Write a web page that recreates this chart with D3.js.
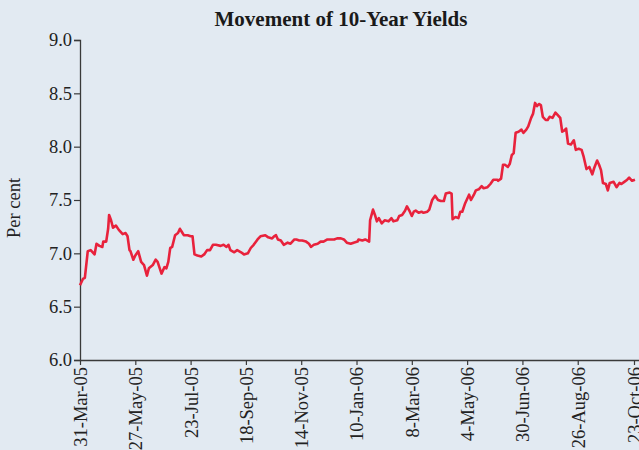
<!DOCTYPE html>
<html>
<head>
<meta charset="utf-8">
<script src="https://cdn.jsdelivr.net/npm/d3@7"></script>
<style>
  html, body { margin: 0; padding: 0; background: #e2eaf2; }
  svg { display: block; }
</style>
</head>
<body>
<svg id="chart" width="639" height="450"></svg>
<script>
// Day offsets from 31-Mar-2005 and 10-year yields (per cent)
const startDate = new Date(2005, 2, 31);
const dayOffsets = [
  0, 3, 5, 8, 11, 15, 17, 20, 23, 24, 27, 29, 30, 32, 34, 37, 40, 44, 47, 49,
  51, 52, 55, 57, 60, 63, 66, 69, 71, 75, 78, 80, 84, 87, 89, 91, 93, 95, 98, 101,
  103, 105, 107, 111, 114, 116, 118, 121, 125, 128, 131, 134, 137, 140,
  145, 148, 151, 153, 155, 159, 162, 166, 169, 173, 176, 179, 183, 186, 191, 194,
  198, 200, 202, 204, 207, 210, 214, 217, 221, 223, 226, 229, 233, 236, 238, 241,
  245, 248, 251, 255, 258, 262, 265, 269, 272, 275, 279, 282, 286,
  287, 291, 294, 298, 299, 302, 304, 306, 308, 311, 314, 318, 321, 323, 327, 329,
  332, 335, 337, 340, 342, 344, 346, 349, 352, 354, 358, 360, 363, 366, 369, 372,
  375, 377, 381, 383, 384, 387, 390, 392, 394, 397, 401, 403, 406, 408, 411, 414,
  416, 420, 423, 426, 430,
  431, 434, 436, 438, 441, 443, 445, 447, 449, 452, 455, 457, 460, 462, 465, 467,
  469, 471, 473, 475, 477, 480, 482, 484, 487, 490, 492, 495, 497, 499, 501, 503,
  506, 509, 511, 514, 517, 519, 522, 525, 528, 530, 533, 535, 537, 539, 542, 544,
  546, 550, 553, 556, 558, 561, 564, 566, 569, 572
];
const yields = [
  6.70, 6.76, 6.77, 7.02, 7.03, 6.99, 7.09, 7.07, 7.06, 7.11, 7.11, 7.23, 7.36, 7.31, 7.24, 7.26, 7.22, 7.18, 7.19, 7.16,
  7.03, 7.02, 6.94, 6.98, 7.02, 6.92, 6.89, 6.79, 6.86, 6.89, 6.94, 6.92, 6.81, 6.87, 6.86, 6.92, 7.05, 7.06, 7.17, 7.19,
  7.23, 7.20, 7.17, 7.17, 7.16, 7.16, 6.99, 6.98, 6.97, 6.99, 7.03, 7.03, 7.08, 7.08,
  7.07, 7.08, 7.06, 7.08, 7.03, 7.01, 7.03, 7.01, 6.99, 7.00, 7.05, 7.08, 7.13, 7.16, 7.17, 7.15,
  7.14, 7.16, 7.17, 7.13, 7.12, 7.08, 7.10, 7.09, 7.13, 7.13, 7.12, 7.12, 7.11, 7.09, 7.06, 7.08,
  7.09, 7.11, 7.11, 7.13, 7.13, 7.13, 7.14, 7.14, 7.13, 7.10, 7.09, 7.10, 7.11,
  7.13, 7.12, 7.13, 7.11, 7.31, 7.41, 7.36, 7.30, 7.33, 7.28, 7.31, 7.30, 7.33, 7.30, 7.31, 7.35,
  7.36, 7.40, 7.44, 7.39, 7.35, 7.39, 7.40, 7.38, 7.39, 7.38, 7.39, 7.41, 7.50, 7.54, 7.50, 7.49,
  7.49, 7.56, 7.57, 7.56, 7.32, 7.34, 7.33, 7.39, 7.39, 7.47, 7.55, 7.50, 7.55, 7.59, 7.60, 7.63,
  7.61, 7.62, 7.65, 7.69, 7.69,
  7.68, 7.70, 7.83, 7.83, 7.81, 7.84, 7.92, 7.94, 8.13, 8.14, 8.16, 8.13, 8.16, 8.19, 8.27, 8.31,
  8.41, 8.38, 8.40, 8.39, 8.28, 8.25, 8.25, 8.28, 8.27, 8.32, 8.30, 8.27, 8.14, 8.15, 8.17, 8.03,
  8.02, 8.06, 7.97, 7.98, 7.97, 7.91, 7.79, 7.81, 7.74, 7.80, 7.87, 7.83, 7.78, 7.66, 7.65, 7.59,
  7.66, 7.67, 7.62, 7.66, 7.65, 7.67, 7.69, 7.71, 7.68, 7.69
];
const tickLabels = ["31-Mar-05", "27-May-05", "23-Jul-05", "18-Sep-05", "14-Nov-05", "10-Jan-06",
                    "8-Mar-06", "4-May-06", "30-Jun-06", "26-Aug-06", "23-Oct-06"];
const yTicks = [6.0, 6.5, 7.0, 7.5, 8.0, 8.5, 9.0];

const parseLabel = d3.timeParse("%d-%b-%y");
const tickDates = tickLabels.map(parseLabel);
const data = dayOffsets.map((d, i) => ({ date: d3.timeDay.offset(startDate, d), value: yields[i] }));

const svg = d3.select("#chart");
const mLeft = 80, mRight = 634, mTop = 40, mBottom = 360;

const x = d3.scaleTime().domain([tickDates[0], tickDates[tickDates.length - 1]]).range([mLeft, mRight]);
const y = d3.scaleLinear().domain([6, 9]).range([mBottom, mTop]);

const font = "'Liberation Serif', 'Times New Roman', serif";
const axisColor = "#3a3a3a";

// Title
svg.append("text")
  .attr("x", 341).attr("y", 26)
  .attr("text-anchor", "middle")
  .style("font-family", font).style("font-size", "21px").style("font-weight", "bold")
  .style("fill", "#1a1a1a")
  .text("Movement of 10-Year Yields");

// Y axis
const yAxis = svg.append("g").attr("transform", `translate(${mLeft},0)`)
  .call(d3.axisLeft(y).tickValues(yTicks).tickFormat(d3.format(".1f")).tickSize(6).tickPadding(2));
yAxis.select(".domain").attr("stroke", axisColor).attr("stroke-width", 1.3);
yAxis.selectAll(".tick line").attr("stroke", axisColor).attr("stroke-width", 1.2);
yAxis.selectAll(".tick text")
  .style("font-family", font).style("font-size", "18.5px").style("fill", "#222");

// X axis
const xAxis = svg.append("g").attr("transform", `translate(0,${mBottom})`)
  .call(d3.axisBottom(x).tickValues(tickDates).tickFormat((d, i) => tickLabels[i]).tickSize(5).tickSizeOuter(0));
xAxis.select(".domain").attr("d", `M${mLeft},0.5H639`).attr("stroke", axisColor).attr("stroke-width", 1.3);
xAxis.selectAll(".tick line").attr("stroke", axisColor).attr("stroke-width", 1.2);
xAxis.selectAll(".tick text")
  .attr("transform", "rotate(-90)")
  .attr("text-anchor", "end")
  .attr("x", -7).attr("y", 0).attr("dy", "0.35em")
  .style("font-family", font).style("font-size", "18.5px").style("fill", "#222");

// Y label
svg.append("text")
  .attr("transform", "translate(20,208) rotate(-90)")
  .attr("text-anchor", "middle")
  .style("font-family", font).style("font-size", "18.5px").style("fill", "#222")
  .text("Per cent");

// Line
const line = d3.line().x(d => x(d.date)).y(d => y(d.value));
svg.append("path")
  .datum(data)
  .attr("fill", "none")
  .attr("stroke", "#e8223c")
  .attr("stroke-width", 2.6)
  .attr("stroke-linejoin", "round")
  .attr("d", line);
</script>
</body>
</html>
